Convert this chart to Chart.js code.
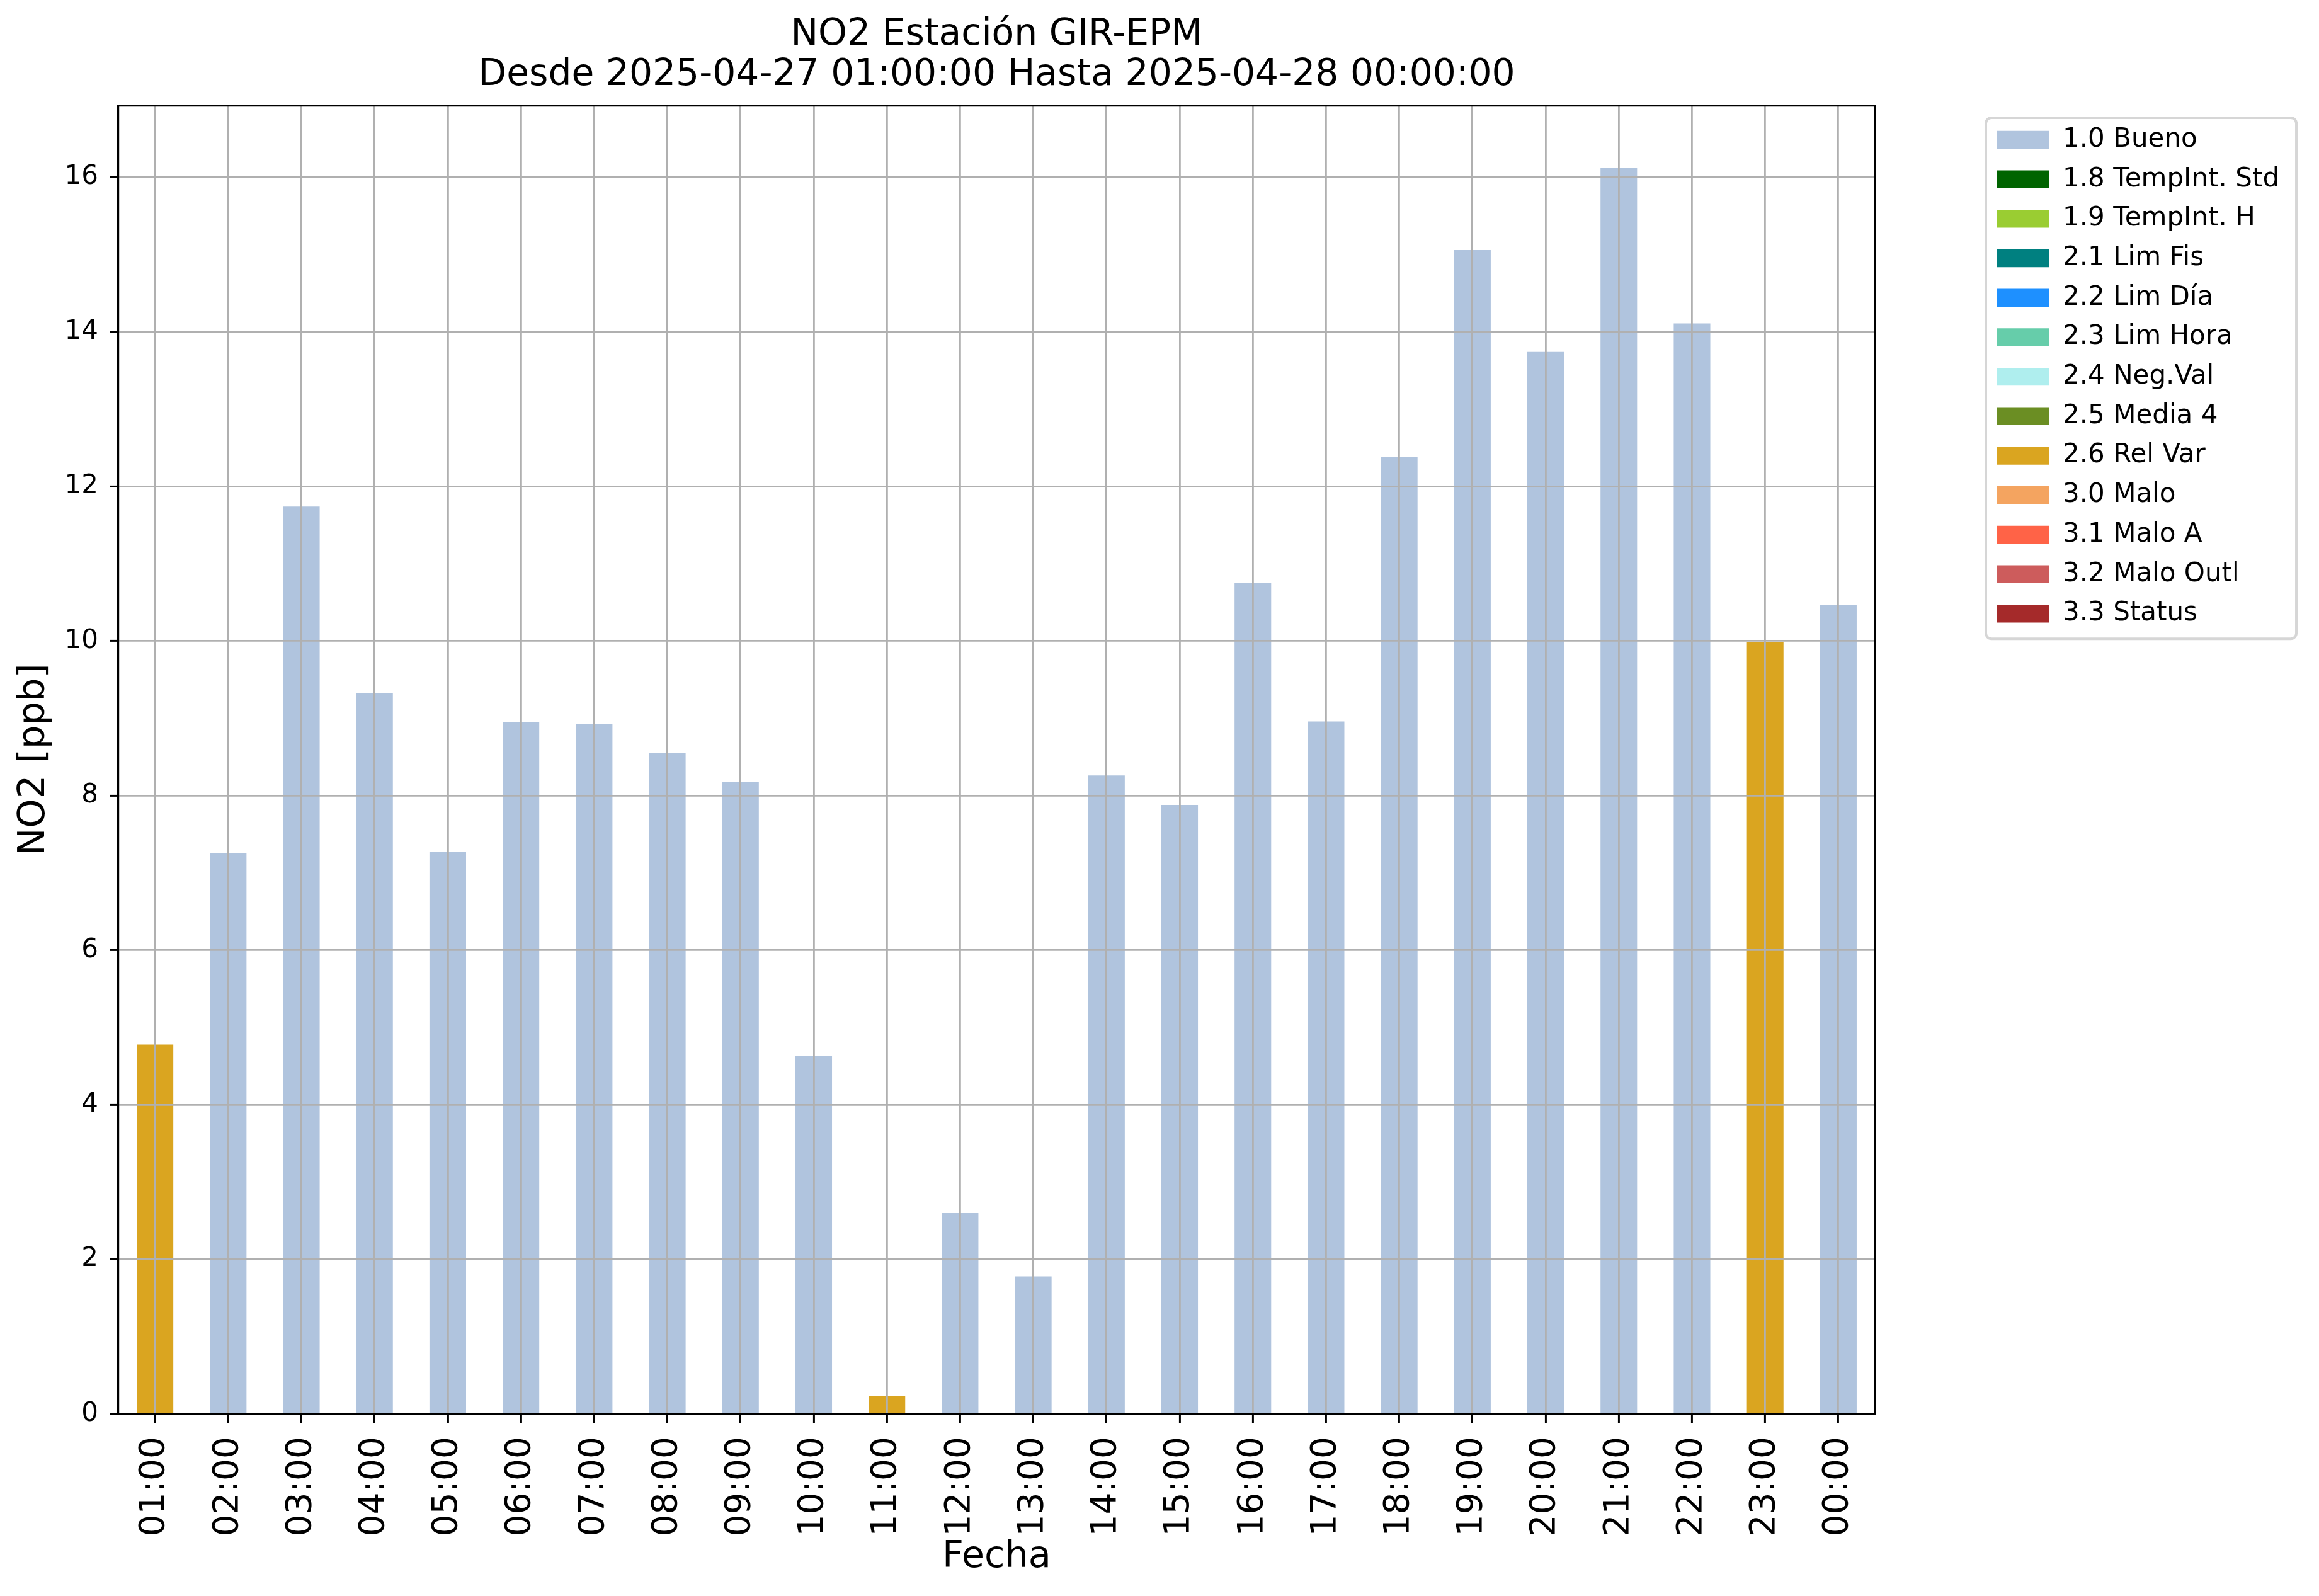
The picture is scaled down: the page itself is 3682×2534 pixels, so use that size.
<!DOCTYPE html>
<html>
<head>
<meta charset="utf-8">
<title>NO2 Estación GIR-EPM</title>
<script src="https://cdn.jsdelivr.net/npm/chart.js@4.4.1/dist/chart.umd.min.js"></script>
<style>
  html, body { margin: 0; padding: 0; background: #fff; }
  canvas { display: block; }
</style>
</head>
<body>
<canvas id="grafico" width="3682" height="2534"></canvas>
<script>
const horas = ["01:00", "02:00", "03:00", "04:00", "05:00", "06:00", "07:00", "08:00",
  "09:00", "10:00", "11:00", "12:00", "13:00", "14:00", "15:00", "16:00",
  "17:00", "18:00", "19:00", "20:00", "21:00", "22:00", "23:00", "00:00"];

// valores NO2 [ppb] por bandera de calidad
const bueno = [null, 7.26, 11.74, 9.33, 7.27, 8.95, 8.93, 8.55, 8.18, 4.63, null, 2.60,
  1.78, 8.26, 7.88, 10.75, 8.96, 12.38, 15.06, 13.74, 16.12, 14.11, null, 10.47];
const relVar = [4.78, null, null, null, null, null, null, null, null, null, 0.23, null,
  null, null, null, null, null, null, null, null, null, null, 9.99, null];

const banderas = ["1.0 Bueno", "1.8 TempInt. Std", "1.9 TempInt. H", "2.1 Lim Fis",
  "2.2 Lim Día", "2.3 Lim Hora", "2.4 Neg.Val", "2.5 Media 4", "2.6 Rel Var",
  "3.0 Malo", "3.1 Malo A", "3.2 Malo Outl", "3.3 Status"];
const colores = ["#b0c4de", "#006400", "#9acd32", "#008080", "#1e90ff", "#66cdaa",
  "#afeeee", "#6b8e23", "#daa520", "#f4a460", "#ff6347", "#cd5c5c", "#a52a2a"];
const valoresPorBandera = { "1.0 Bueno": bueno, "2.6 Rel Var": relVar };

const yMax = 16.93;
const yPaso = 2;

Chart.defaults.font.family = "'DejaVu Sans', sans-serif";
Chart.defaults.color = "#000";

const FONT_LEYENDA = 42;
const PAD_LEYENDA = 20.7;
const CAJA_ANCHO = 83;

// ancho de la leyenda, para dejarla en el mismo sitio que el original
const medidor = document.createElement("canvas").getContext("2d");
medidor.font = FONT_LEYENDA + "px 'DejaVu Sans'";
const textoMax = Math.max(...banderas.map(t => medidor.measureText(t).width));
const anchoLeyenda = PAD_LEYENDA + CAJA_ANCHO + FONT_LEYENDA / 2 + textoMax + 10;
const bordeDerecho = 2977;
const ejeDerecho = 173.3;
const padDerecha = 3682 - bordeDerecho - ejeDerecho - anchoLeyenda;

const datasets = banderas.map((b, i) => ({
  label: b,
  data: valoresPorBandera[b] || [],
  backgroundColor: colores[i],
  borderColor: colores[i],
  borderWidth: 0,
  xAxisID: "x",
  yAxisID: "y"
}));

const grid = {
  color: "#b0b0b0",
  lineWidth: 2.8,
  z: 1,
  tickLength: 14,
  tickColor: "#000",
  tickWidth: 3
};
const borde = { display: true, color: "#000", width: 3.2, z: 2 };

// marco de la leyenda, como el de matplotlib
const marcoLeyenda = {
  id: "marcoLeyenda",
  afterDraw(chart) {
    const hb = chart.legend && chart.legend.legendHitBoxes;
    if (!hb || !hb.length) return;
    const ctx = chart.ctx;
    const izq = hb[0].left - 18;
    const der = Math.max(...hb.map(h => h.left + h.width)) + 27;
    const arriba = hb[0].top - 14;
    const abajo = hb[hb.length - 1].top + FONT_LEYENDA + 19;
    ctx.save();
    ctx.strokeStyle = "#d6d6d6";
    ctx.lineWidth = 4;
    ctx.beginPath();
    ctx.roundRect(izq, arriba, der - izq, abajo - arriba, 9);
    ctx.stroke();
    ctx.restore();
  }
};

new Chart(document.getElementById("grafico"), {
  type: "bar",
  data: { labels: horas, datasets },
  plugins: [marcoLeyenda],
  options: {
    responsive: false,
    animation: false,
    devicePixelRatio: 1,
    events: [],
    categoryPercentage: 0.5,
    barPercentage: 1.0,
    layout: { padding: { left: 0, top: 0, bottom: 0, right: padDerecha } },
    plugins: {
      tooltip: { enabled: false },
      title: {
        display: true,
        fullSize: false,
        text: ["NO2 Estación GIR-EPM", "Desde 2025-04-27 01:00:00 Hasta 2025-04-28 00:00:00"],
        font: { size: 58.3, weight: "normal", lineHeight: 64 / 58.3 },
        color: "#000",
        padding: { top: 24, bottom: 0 }
      },
      legend: {
        position: "right",
        align: "start",
        fullSize: false,
        title: { display: true, text: "", padding: { top: 12.8, bottom: 0 }, font: { size: 1, lineHeight: 0 } },
        labels: {
          boxWidth: CAJA_ANCHO,
          boxHeight: 28.4,
          padding: PAD_LEYENDA,
          color: "#000",
          font: { size: FONT_LEYENDA }
        }
      }
    },
    scales: {
      x: {
        type: "category",
        position: "bottom",
        offset: true,
        stacked: true,
        grid: Object.assign({ offset: false }, grid),
        border: borde,
        ticks: {
          autoSkip: false,
          minRotation: 90,
          maxRotation: 90,
          padding: 22,
          color: "#000",
          font: { size: 55 }
        },
        title: {
          display: true,
          text: "Fecha",
          color: "#000",
          font: { size: 59 },
          padding: { top: 0, bottom: 25.6 }
        },
        afterFit(s) { s.height = 289; }
      },
      x2: {
        type: "category",
        position: "top",
        labels: horas,
        offset: true,
        grid: { display: false },
        ticks: { display: false },
        border: borde,
        afterFit(s) { s.height = 15.4; }
      },
      y: {
        type: "linear",
        position: "left",
        min: 0,
        max: yMax,
        stacked: true,
        grid: grid,
        border: borde,
        ticks: {
          stepSize: yPaso,
          includeBounds: false,
          padding: 18,
          color: "#000",
          font: { size: 42 }
        },
        title: {
          display: true,
          text: "NO2 [ppb]",
          color: "#000",
          font: { size: 59 },
          padding: { top: 19.2, bottom: 0 }
        },
        afterFit(s) { s.width = 188; }
      },
      y2: {
        type: "linear",
        position: "right",
        grid: { display: false },
        ticks: { display: false },
        border: borde,
        afterFit(s) { s.width = ejeDerecho; }
      }
    }
  }
});
</script>
</body>
</html>
